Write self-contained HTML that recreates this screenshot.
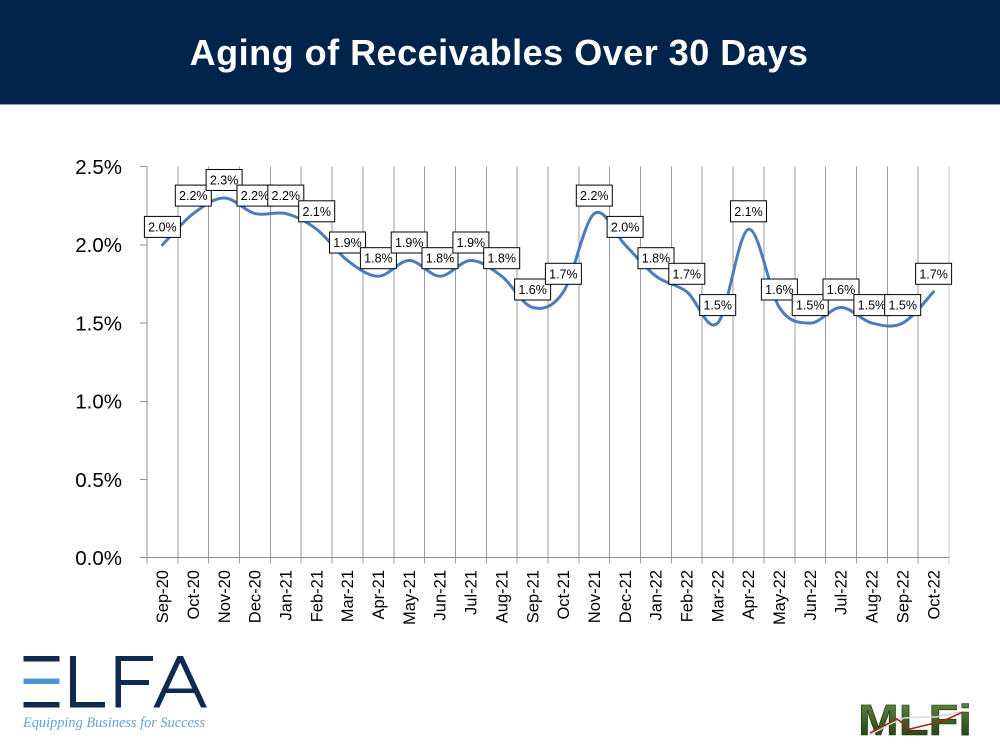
<!DOCTYPE html>
<html>
<head>
<meta charset="utf-8">
<style>
  html, body { margin:0; padding:0; background:#ffffff; }
  body { width:1000px; height:750px; overflow:hidden; }
  svg { display:block; }
</style>
</head>
<body>
<svg width="1000" height="750" viewBox="0 0 1000 750" xmlns="http://www.w3.org/2000/svg">
  <defs>
    <linearGradient id="mlfiGrad" x1="0" y1="0" x2="0" y2="1">
      <stop offset="0" stop-color="#6f8f4a"/>
      <stop offset="0.5" stop-color="#3f6127"/>
      <stop offset="1" stop-color="#1f3512"/>
    </linearGradient>
  </defs>

  <!-- Header -->
  <rect x="0" y="0" width="1000" height="104" fill="#03244a"/>
  <rect x="0" y="104" width="1000" height="1" fill="#8a9ab0"/>
  <text x="499" y="65" text-anchor="middle" font-family="'Liberation Sans', Arial, sans-serif" font-weight="bold" font-size="36" letter-spacing="0.5" fill="#ffffff">Aging of Receivables Over 30 Days</text>

  <!-- Vertical gridlines -->
  <g stroke="#9a9a9a" stroke-width="1" shape-rendering="crispEdges">
    <line x1="178" y1="166.7" x2="178" y2="563.5"/>
    <line x1="208.7" y1="166.7" x2="208.7" y2="563.5"/>
    <line x1="239.5" y1="166.7" x2="239.5" y2="563.5"/>
    <line x1="270.4" y1="166.7" x2="270.4" y2="563.5"/>
    <line x1="301.2" y1="166.7" x2="301.2" y2="563.5"/>
    <line x1="332.1" y1="166.7" x2="332.1" y2="563.5"/>
    <line x1="362.9" y1="166.7" x2="362.9" y2="563.5"/>
    <line x1="393.8" y1="166.7" x2="393.8" y2="563.5"/>
    <line x1="424.6" y1="166.7" x2="424.6" y2="563.5"/>
    <line x1="455.5" y1="166.7" x2="455.5" y2="563.5"/>
    <line x1="486.3" y1="166.7" x2="486.3" y2="563.5"/>
    <line x1="517.2" y1="166.7" x2="517.2" y2="563.5"/>
    <line x1="548" y1="166.7" x2="548" y2="563.5"/>
    <line x1="578.8" y1="166.7" x2="578.8" y2="563.5"/>
    <line x1="609.7" y1="166.7" x2="609.7" y2="563.5"/>
    <line x1="640.5" y1="166.7" x2="640.5" y2="563.5"/>
    <line x1="671.4" y1="166.7" x2="671.4" y2="563.5"/>
    <line x1="702.2" y1="166.7" x2="702.2" y2="563.5"/>
    <line x1="733.1" y1="166.7" x2="733.1" y2="563.5"/>
    <line x1="763.9" y1="166.7" x2="763.9" y2="563.5"/>
    <line x1="794.8" y1="166.7" x2="794.8" y2="563.5"/>
    <line x1="825.6" y1="166.7" x2="825.6" y2="563.5"/>
    <line x1="856.5" y1="166.7" x2="856.5" y2="563.5"/>
    <line x1="887.3" y1="166.7" x2="887.3" y2="563.5"/>
    <line x1="918.2" y1="166.7" x2="918.2" y2="563.5"/>
  </g>
  <line x1="949" y1="166.7" x2="949" y2="563.5" stroke="#c4c4c4" stroke-width="1" shape-rendering="crispEdges"/>

  <!-- Axes -->
  <g stroke="#8c8c8c" stroke-width="1" shape-rendering="crispEdges">
    <line x1="147" y1="166.7" x2="147" y2="563.5"/>
    <line x1="140" y1="557.7" x2="949" y2="557.7"/>
    <line x1="140" y1="166.7" x2="147" y2="166.7"/>
    <line x1="140" y1="244.9" x2="147" y2="244.9"/>
    <line x1="140" y1="323.1" x2="147" y2="323.1"/>
    <line x1="140" y1="401.3" x2="147" y2="401.3"/>
    <line x1="140" y1="479.5" x2="147" y2="479.5"/>
  </g>

  <!-- Y labels -->
  <g font-family="'Liberation Sans', Arial, sans-serif" font-size="20.5" fill="#000" text-anchor="end">
    <text x="122" y="174">2.5%</text>
    <text x="122" y="252.2">2.0%</text>
    <text x="122" y="330.4">1.5%</text>
    <text x="122" y="408.6">1.0%</text>
    <text x="122" y="486.8">0.5%</text>
    <text x="122" y="565">0.0%</text>
  </g>

  <!-- X labels -->
  <g font-family="'Liberation Sans', Arial, sans-serif" font-size="16.5" fill="#000" text-anchor="end">
    <text transform="translate(168.2,570) rotate(-90)">Sep-20</text>
    <text transform="translate(199,570) rotate(-90)">Oct-20</text>
    <text transform="translate(229.8,570) rotate(-90)">Nov-20</text>
    <text transform="translate(260.7,570) rotate(-90)">Dec-20</text>
    <text transform="translate(291.5,570) rotate(-90)">Jan-21</text>
    <text transform="translate(322.4,570) rotate(-90)">Feb-21</text>
    <text transform="translate(353.2,570) rotate(-90)">Mar-21</text>
    <text transform="translate(384.1,570) rotate(-90)">Apr-21</text>
    <text transform="translate(414.9,570) rotate(-90)">May-21</text>
    <text transform="translate(445.7,570) rotate(-90)">Jun-21</text>
    <text transform="translate(476.6,570) rotate(-90)">Jul-21</text>
    <text transform="translate(507.4,570) rotate(-90)">Aug-21</text>
    <text transform="translate(538.3,570) rotate(-90)">Sep-21</text>
    <text transform="translate(569.1,570) rotate(-90)">Oct-21</text>
    <text transform="translate(600,570) rotate(-90)">Nov-21</text>
    <text transform="translate(630.8,570) rotate(-90)">Dec-21</text>
    <text transform="translate(661.7,570) rotate(-90)">Jan-22</text>
    <text transform="translate(692.5,570) rotate(-90)">Feb-22</text>
    <text transform="translate(723.4,570) rotate(-90)">Mar-22</text>
    <text transform="translate(754.2,570) rotate(-90)">Apr-22</text>
    <text transform="translate(785,570) rotate(-90)">May-22</text>
    <text transform="translate(815.9,570) rotate(-90)">Jun-22</text>
    <text transform="translate(846.7,570) rotate(-90)">Jul-22</text>
    <text transform="translate(877.6,570) rotate(-90)">Aug-22</text>
    <text transform="translate(908.4,570) rotate(-90)">Sep-22</text>
    <text transform="translate(939.3,570) rotate(-90)">Oct-22</text>
  </g>

  <!-- Series line -->
  <path fill="none" stroke="#4a7ebb" stroke-width="3" stroke-linecap="round" stroke-linejoin="round"
    d="M162.4,244.9
       C167.6,239.7 183.0,221.4 193.3,213.6
       C203.6,205.8 213.8,198.0 224.1,198.0
       C234.4,198.0 244.7,211.0 255.0,213.6
       C265.2,216.2 275.5,211.0 285.8,213.6
       C296.1,216.2 306.4,221.5 316.7,229.3
       C326.9,237.1 337.2,252.7 347.5,260.5
       C357.8,268.3 368.1,276.2 378.4,276.2
       C388.6,276.2 398.9,260.5 409.2,260.5
       C419.5,260.5 429.8,276.2 440.0,276.2
       C450.3,276.2 460.6,260.5 470.9,260.5
       C481.2,260.5 491.5,268.4 501.7,276.2
       C512.0,284.0 522.3,304.9 532.6,307.5
       C542.9,310.1 553.1,307.5 563.4,291.8
       C573.7,276.2 584.0,221.4 594.3,213.6
       C604.6,205.8 614.8,234.5 625.1,244.9
       C635.4,255.3 645.7,268.4 656.0,276.2
       C666.2,284.0 676.5,284.0 686.8,291.8
       C697.1,299.6 707.4,333.5 717.7,323.1
       C727.9,312.7 738.2,231.9 748.5,229.3
       C758.8,226.7 769.1,291.9 779.4,307.5
       C789.6,323.1 799.9,323.1 810.2,323.1
       C820.5,323.1 830.8,307.5 841.0,307.5
       C851.3,307.5 861.6,320.5 871.9,323.1
       C882.2,325.7 892.5,328.3 902.7,323.1
       C913.0,317.9 928.4,297.0 933.6,291.8"/>

  <!-- Data labels -->
  <g font-family="'Liberation Sans', Arial, sans-serif" font-size="12.5" fill="#000" text-anchor="middle">
    <rect x="144.4" y="216.4" width="36" height="21" fill="#fff" stroke="#000"/><text x="162.4" y="231.4">2.0%</text>
    <rect x="175.3" y="185.1" width="36" height="21" fill="#fff" stroke="#000"/><text x="193.3" y="200.1">2.2%</text>
    <rect x="206.1" y="169.5" width="36" height="21" fill="#fff" stroke="#000"/><text x="224.1" y="184.5">2.3%</text>
    <rect x="237.0" y="185.1" width="36" height="21" fill="#fff" stroke="#000"/><text x="255.0" y="200.1">2.2%</text>
    <rect x="267.8" y="185.1" width="36" height="21" fill="#fff" stroke="#000"/><text x="285.8" y="200.1">2.2%</text>
    <rect x="298.7" y="200.8" width="36" height="21" fill="#fff" stroke="#000"/><text x="316.7" y="215.8">2.1%</text>
    <rect x="329.5" y="232.0" width="36" height="21" fill="#fff" stroke="#000"/><text x="347.5" y="247.0">1.9%</text>
    <rect x="360.4" y="247.7" width="36" height="21" fill="#fff" stroke="#000"/><text x="378.4" y="262.7">1.8%</text>
    <rect x="391.2" y="232.0" width="36" height="21" fill="#fff" stroke="#000"/><text x="409.2" y="247.0">1.9%</text>
    <rect x="422.0" y="247.7" width="36" height="21" fill="#fff" stroke="#000"/><text x="440.0" y="262.7">1.8%</text>
    <rect x="452.9" y="232.0" width="36" height="21" fill="#fff" stroke="#000"/><text x="470.9" y="247.0">1.9%</text>
    <rect x="483.7" y="247.7" width="36" height="21" fill="#fff" stroke="#000"/><text x="501.7" y="262.7">1.8%</text>
    <rect x="514.6" y="279.0" width="36" height="21" fill="#fff" stroke="#000"/><text x="532.6" y="294.0">1.6%</text>
    <rect x="545.4" y="263.3" width="36" height="21" fill="#fff" stroke="#000"/><text x="563.4" y="278.3">1.7%</text>
    <rect x="576.3" y="185.1" width="36" height="21" fill="#fff" stroke="#000"/><text x="594.3" y="200.1">2.2%</text>
    <rect x="607.1" y="216.4" width="36" height="21" fill="#fff" stroke="#000"/><text x="625.1" y="231.4">2.0%</text>
    <rect x="638.0" y="247.7" width="36" height="21" fill="#fff" stroke="#000"/><text x="656.0" y="262.7">1.8%</text>
    <rect x="668.8" y="263.3" width="36" height="21" fill="#fff" stroke="#000"/><text x="686.8" y="278.3">1.7%</text>
    <rect x="699.7" y="294.6" width="36" height="21" fill="#fff" stroke="#000"/><text x="717.7" y="309.6">1.5%</text>
    <rect x="730.5" y="200.8" width="36" height="21" fill="#fff" stroke="#000"/><text x="748.5" y="215.8">2.1%</text>
    <rect x="761.4" y="279.0" width="36" height="21" fill="#fff" stroke="#000"/><text x="779.4" y="294.0">1.6%</text>
    <rect x="792.2" y="294.6" width="36" height="21" fill="#fff" stroke="#000"/><text x="810.2" y="309.6">1.5%</text>
    <rect x="823.0" y="279.0" width="36" height="21" fill="#fff" stroke="#000"/><text x="841.0" y="294.0">1.6%</text>
    <rect x="853.9" y="294.6" width="36" height="21" fill="#fff" stroke="#000"/><text x="871.9" y="309.6">1.5%</text>
    <rect x="884.7" y="294.6" width="36" height="21" fill="#fff" stroke="#000"/><text x="902.7" y="309.6">1.5%</text>
    <rect x="915.6" y="263.3" width="36" height="21" fill="#fff" stroke="#000"/><text x="933.6" y="278.3">1.7%</text>
  </g>

  <!-- ELFA logo -->
  <g fill="#0e2a4e">
    <rect x="23.5" y="656" width="36" height="5.5"/>
    <rect x="23.5" y="702" width="36" height="5.5"/>
    <rect x="70" y="656" width="6" height="51.5"/>
    <rect x="70" y="702" width="35" height="5.5"/>
    <rect x="115.5" y="656" width="5.5" height="51.5"/>
    <rect x="115.5" y="656" width="37.5" height="5"/>
    <rect x="115.5" y="680" width="33.5" height="5"/>
    <polygon points="177.5,656 183,656 207,707.5 201,707.5 180.2,662.5 159.4,707.5 153.4,707.5"/>
    <rect x="165" y="688.5" width="30.5" height="4.5"/>
  </g>
  <rect x="23.5" y="678.5" width="36" height="5.5" fill="#4f92d2"/>
  <text x="23" y="727" textLength="182" lengthAdjust="spacingAndGlyphs" font-family="'Liberation Serif', 'Times New Roman', serif" font-style="italic" font-size="15" fill="#5ea3d9">Equipping Business for Success</text>

  <!-- MLFi logo -->
  <text x="858" y="735" textLength="114" lengthAdjust="spacingAndGlyphs" font-family="'Liberation Sans', Arial, sans-serif" font-weight="bold" font-size="44" fill="url(#mlfiGrad)" stroke="#1c2e10" stroke-width="0.6">MLFi</text>
  <polyline points="870,735 890,724 904,718 920,717 936,717 960,712" fill="none" stroke="#d8d8d8" stroke-width="1.5"/>
  <polyline points="870,733 897,719 910,729 943,721 963,712" fill="none" stroke="#9c2a22" stroke-width="1.6"/>
</svg>
</body>
</html>
